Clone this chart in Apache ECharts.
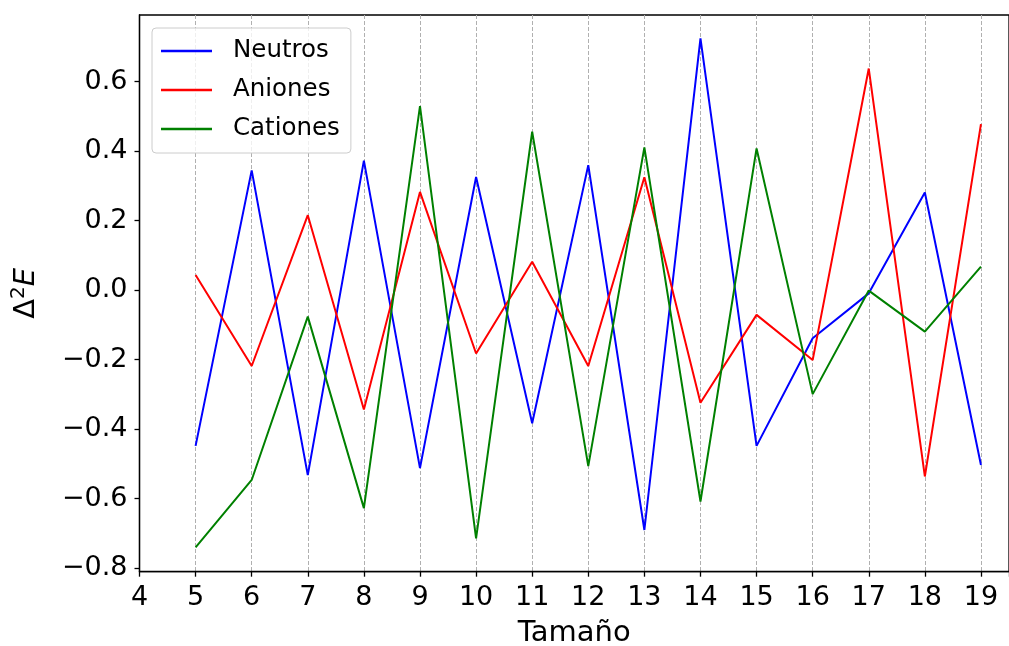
<!DOCTYPE html>
<html>
<head>
<meta charset="utf-8">
<script src="https://cdn.jsdelivr.net/npm/echarts@6/dist/echarts.min.js"></script>
<style>
  html, body { margin: 0; padding: 0; background: #fff; overflow: hidden; }
  #chart { width: 1009px; height: 646px; }
</style>
</head>
<body>
<div id="chart"></div>
<script>
// tamaños del cluster
const sizes = [5, 6, 7, 8, 9, 10, 11, 12, 13, 14, 15, 16, 17, 18, 19]
const neutros = [-0.448, 0.345, -0.532, 0.373, -0.512, 0.326, -0.383, 0.360, -0.690, 0.725, -0.448, -0.138, -0.009, 0.281, -0.503]
const aniones = [0.044, -0.218, 0.216, -0.343, 0.283, -0.182, 0.082, -0.218, 0.325, -0.324, -0.071, -0.201, 0.638, -0.536, 0.478]
const cationes = [-0.740, -0.546, -0.076, -0.627, 0.530, -0.714, 0.456, -0.506, 0.411, -0.608, 0.408, -0.299, -0.001, -0.119, 0.068]
const yTicks = [-0.8, -0.6, -0.4, -0.2, 0.0, 0.2, 0.4, 0.6]

const font = 'DejaVu Sans'
const pairs = arr => sizes.map((s, i) => [s, arr[i]])
const fmtY = v => {
  let r = Math.round(v * 10) / 10
  return (r < 0 ? '\u2212' : '') + Math.abs(r).toFixed(1)
}

let chart = echarts.init(document.getElementById('chart'), null, {renderer: 'canvas'})
let option = {
  animation: false,
  backgroundColor: '#fff',
  grid: {
    left: 139.5, top: 15, right: 0, bottom: 74.3,
    outerBoundsMode: 'none',
    show: true, borderColor: '#000', borderWidth: 1.3, containLabel: false
  },
  legend: {
    orient: 'vertical',
    left: 152, top: 28,
    icon: 'rect',
    itemWidth: 51, itemHeight: 2.5,
    itemGap: 11,
    padding: [9, 11, 10, 9],
    backgroundColor: 'rgba(255,255,255,0.8)',
    borderColor: '#cccccc', borderWidth: 1, borderRadius: 4,
    textStyle: {fontFamily: font, fontSize: 24.5, color: '#000', lineHeight: 28, padding: [0, 0, 0, 16]},
    data: ['Neutros', 'Aniones', 'Cationes']
  },
  xAxis: {
    type: 'value',
    min: 4, max: 19.5, interval: 1,
    name: 'Tamaño',
    nameLocation: 'middle', nameGap: 47,
    nameTextStyle: {fontFamily: font, fontSize: 29, color: '#000'},
    axisLine: {show: true, onZero: false, lineStyle: {color: '#000', width: 1.3}},
    axisTick: {show: true, length: 5, lineStyle: {color: '#000', width: 1.3}},
    axisLabel: {
      fontFamily: font, fontSize: 27, color: '#000', margin: 13,
      formatter: v => Number.isInteger(v) ? String(v) : ''
    },
    splitLine: {show: true, lineStyle: {color: '#b0b0b0', width: 1, type: [4, 2]}}
  },
  yAxis: {
    type: 'value',
    min: -0.81, max: 0.792,
    name: '{d|\u0394}{s|2}{e|E}',
    nameLocation: 'middle', nameGap: 95, nameRotate: 90,
    nameTextStyle: {
      fontFamily: font, fontSize: 29, color: '#000',
      rich: {
        d: {fontFamily: font, fontSize: 29, color: '#000'},
        s: {fontFamily: font, fontSize: 20, color: '#000', verticalAlign: 'top', padding: [0, 0, 16, 0]},
        e: {fontFamily: font, fontSize: 29, fontStyle: 'italic', color: '#000'}
      }
    },
    axisLine: {show: true, onZero: false, lineStyle: {color: '#000', width: 1.3}},
    axisTick: {show: true, length: 5, lineStyle: {color: '#000', width: 1.3}, customValues: yTicks},
    axisLabel: {
      fontFamily: font, fontSize: 27, color: '#000', margin: 12,
      customValues: yTicks, formatter: fmtY
    },
    splitLine: {show: false}
  },
  series: [
    {name: 'Neutros', type: 'line', data: pairs(neutros), showSymbol: false, symbol: 'none',
     color: '#0000ff', lineStyle: {color: '#0000ff', width: 2}},
    {name: 'Aniones', type: 'line', data: pairs(aniones), showSymbol: false, symbol: 'none',
     color: '#ff0000', lineStyle: {color: '#ff0000', width: 2}},
    {name: 'Cationes', type: 'line', data: pairs(cationes), showSymbol: false, symbol: 'none',
     color: '#008000', lineStyle: {color: '#008000', width: 2}}
  ]
}
chart.setOption(option)
</script>
</body>
</html>
